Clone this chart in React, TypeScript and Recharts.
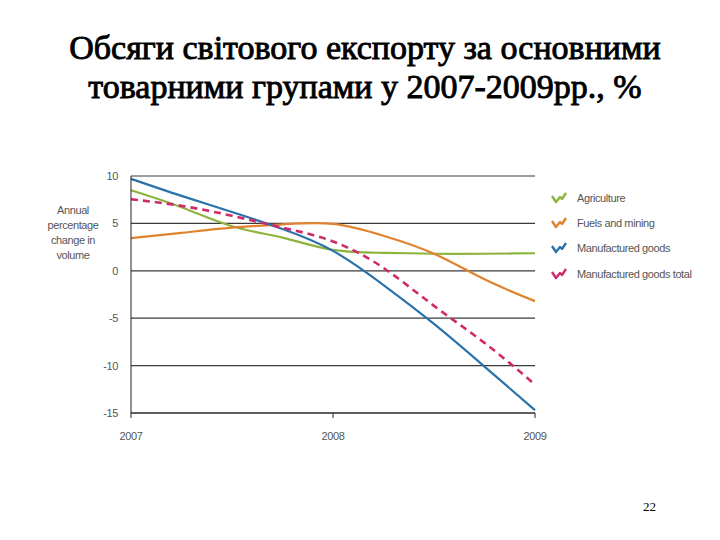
import { LineChart, Line, XAxis, YAxis, CartesianGrid } from 'recharts'

const years = [2007, 2007.25, 2007.5, 2007.75, 2008, 2008.25, 2008.5, 2008.75, 2009]
const agriculture = [8.5, 6.7, 4.7, 3.5, 2.2, 1.9, 1.8, 1.8, 1.85]
const fuelsMining = [3.45, 4.0, 4.55, 4.9, 4.95, 3.7, 1.8, -0.9, -3.2]
const manufactured = [9.7, 7.9, 6.2, 4.4, 2.1, -1.5, -5.6, -10.1, -14.7]
const manufacturedTotal = [7.55, 6.85, 5.8, 4.55, 3.1, 0.3, -3.7, -7.6, -12.0]

const yearTicks = [2007, 2008, 2009]
const valueTicks = [-15, -10, -5, 0, 5, 10]

const data = years.map((year, i) => ({
    year,
    agriculture: agriculture[i],
    fuels: fuelsMining[i],
    manufactured: manufactured[i],
    total: manufacturedTotal[i],
}))

const series = [
    { key: 'agriculture', name: 'Agriculture', color: '#8cb43c', dash: undefined },
    { key: 'fuels', name: 'Fuels and mining', color: '#e0822e', dash: undefined },
    { key: 'manufactured', name: 'Manufactured goods', color: '#2a72aa', dash: undefined },
    { key: 'total', name: 'Manufactured goods total', color: '#cf2a6c', dash: '7 5' },
]

const smallFont = "'Liberation Sans', Arial, sans-serif"
const serifFont = "'Liberation Serif', 'Times New Roman', serif"
const tickStyle = { fontFamily: smallFont, fontSize: 11, fill: '#555', letterSpacing: -0.4 }

function CheckLegend() {
    return (
        <div
            style={{
                position: 'absolute',
                left: 551,
                top: 185,
                fontFamily: smallFont,
                fontSize: 11,
                letterSpacing: -0.4,
                color: '#555',
            }}
        >
            {series.map((s) => (
                <div key={s.key} style={{ display: 'flex', alignItems: 'center', height: 25.3 }}>
                    <svg width={16} height={12} style={{ marginRight: 10 }}>
                        <polyline
                            points="1,4 5,10 9,5 11,7 15,1"
                            fill="none"
                            stroke={s.color}
                            strokeWidth={2.4}
                            strokeLinejoin="round"
                        />
                    </svg>
                    <span>{s.name}</span>
                </div>
            ))}
        </div>
    )
}

export default function App() {
    return (
        <div style={{ position: 'absolute', left: 0, top: 0, width: 720, height: 540, background: '#fff' }}>
            <div
                style={{
                    position: 'absolute',
                    left: 0,
                    top: 28,
                    width: 730,
                    textAlign: 'center',
                    fontFamily: serifFont,
                    fontWeight: 'normal',
                    WebkitTextStroke: '0.9px #000',
                    fontSize: 34,
                    lineHeight: '39px',
                }}
            >
                Обсяги світового експорту за основними
                <br />
                товарними групами у 2007-2009рр., %
            </div>
            <div
                style={{
                    position: 'absolute',
                    left: 33,
                    top: 203,
                    width: 80,
                    textAlign: 'center',
                    fontFamily: smallFont,
                    fontSize: 11,
                    letterSpacing: -0.4,
                    lineHeight: '15px',
                    color: '#555',
                }}
            >
                Annual
                <br />
                percentage
                <br />
                change in
                <br />
                volume
            </div>
            <LineChart
                width={720}
                height={540}
                data={data}
                margin={{ top: 176, right: 185, bottom: 97, left: 91 }}
                style={{ position: 'absolute', left: 0, top: 0 }}
            >
                <CartesianGrid vertical={false} stroke="#3a3a3a" strokeWidth={1.2} />
                <XAxis
                    dataKey="year"
                    type="number"
                    domain={[2007, 2009]}
                    ticks={yearTicks}
                    height={30}
                    stroke="#222"
                    tickSize={5}
                    tickMargin={14}
                    tick={tickStyle}
                />
                <YAxis
                    domain={[-15, 10]}
                    ticks={valueTicks}
                    width={40}
                    stroke="#222"
                    tickLine={false}
                    tickSize={0}
                    tickMargin={13}
                    tick={tickStyle}
                />
                {series.map((s) => (
                    <Line
                        key={s.key}
                        type="natural"
                        dataKey={s.key}
                        name={s.name}
                        stroke={s.color}
                        strokeWidth={s.dash ? 2.6 : 2.2}
                        strokeDasharray={s.dash}
                        dot={false}
                        isAnimationActive={false}
                    />
                ))}
            </LineChart>
            <CheckLegend />
            <div
                style={{
                    position: 'absolute',
                    left: 643,
                    top: 499,
                    fontFamily: serifFont,
                    fontSize: 13,
                }}
            >
                22
            </div>
        </div>
    )
}
